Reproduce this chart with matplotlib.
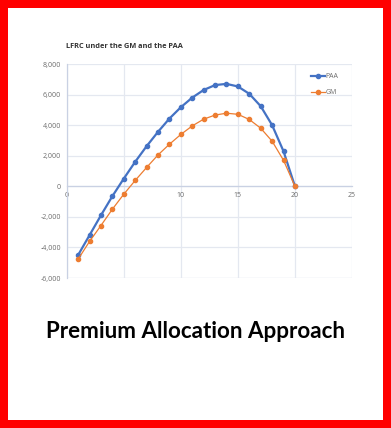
import matplotlib
matplotlib.use("Agg")
import matplotlib.pyplot as plt
from matplotlib.patches import Rectangle

# data
years = list(range(1, 21))
paa = [-4500, -3200, -1900, -650, 500, 1600, 2620, 3560, 4430, 5170,
       5800, 6300, 6620, 6700, 6530, 6050, 5240, 4000, 2290, 0]
gm = [-4770, -3610, -2570, -1500, -520, 380, 1230, 2050, 2750, 3390,
      3950, 4390, 4660, 4780, 4710, 4370, 3800, 2950, 1700, 0]
x_ticks = [0, 5, 10, 15, 20, 25]
y_ticks = [-6000, -4000, -2000, 0, 2000, 4000, 6000, 8000]

plt.rcParams['font.family'] = ['Open Sans', 'DejaVu Sans']

W, H = 391, 428
fig = plt.figure(figsize=(W / 100, H / 100), dpi=100, facecolor='#FF0000')
# white card inside the red frame
fig.patches.append(Rectangle((8 / W, 8 / H), 375 / W, 412 / H, transform=fig.transFigure,
                             facecolor='white', edgecolor='none', zorder=-5))

ax = fig.add_axes([66.7 / W, 1 - 278 / H, 285.3 / W, 214 / H])
ax.set_facecolor('none')
ax.set_zorder(2)

ax.plot(years, paa, color='#4472C4', lw=1.6, marker='o', ms=3.0, label='PAA', zorder=3)
ax.plot(years, gm, color='#ED7D31', lw=0.9, marker='o', ms=3.0, label='GM', zorder=3)

ax.set_xlim(0, 25)
ax.set_ylim(-6000, 8000)
ax.set_xticks(x_ticks)
ax.set_yticks(y_ticks)
ax.set_yticklabels(['{:,}'.format(v) for v in y_ticks])
ax.grid(True, color='#E4E8F0', lw=0.9)
ax.tick_params(length=0, labelsize=5, colors='#6B6B6B', pad=4)

for s in ['top', 'right']:
    ax.spines[s].set_visible(False)
ax.spines['left'].set_color('#C9D1E3')
ax.spines['left'].set_linewidth(0.9)
ax.spines['bottom'].set_position(('data', 0))
ax.spines['bottom'].set_color('#C9D1E3')
ax.spines['bottom'].set_linewidth(0.9)
# frame line at the bottom like the gridlines
ax.axhline(-6000, color='#E4E8F0', lw=0.9, zorder=1)

leg = ax.legend(loc='upper right', bbox_to_anchor=(0.975, 0.985), frameon=False,
                fontsize=5, labelcolor='#6B6B6B', handlelength=2.0, labelspacing=1.25,
                handletextpad=0.15)

fig.text(66 / W, 1 - 47 / H, 'LFRC under the GM and the PAA', fontsize=5.3,
         fontweight='bold', color='#333333', va='center', ha='left')

fig.text(196 / W, 1 - 331 / H, 'Premium Allocation Approach', fontsize=16.1,
         fontweight='bold', color='black', va='center', ha='center',
         family=['Lato', 'DejaVu Sans'])

fig.savefig('out.png', dpi=100, facecolor=fig.get_facecolor())
